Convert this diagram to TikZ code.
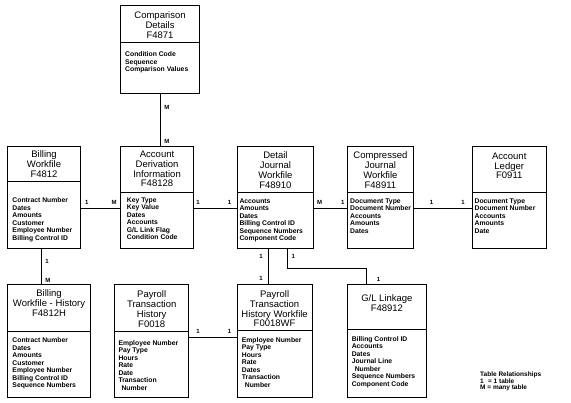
\documentclass[tikz,border=0pt]{standalone}
\usepackage{fontspec}
\setmainfont{Liberation Sans}
\usetikzlibrary{positioning}

% #1 name, #2 top left, #3 width, #4 height, #5 divider, #6 field shift,
% #7 title offset, #8 title, #9 fields
\newcommand{\dbtable}[9]{%
  \node[tblbox,minimum width=#3pt,minimum height=#4pt,anchor=north west] (#1) at (#2) {};
  \draw[rel] (#1.north west) ++(0,#5) -- ++(#3,0);
  \node[tbltitle,anchor=north] (#1title) at ([yshift={4.4pt-#7pt}]#1.north) {#8};
  \node[tblfields,anchor=north west] (#1fields) at ([shift={(#6)}]#1.north west) {#9};
}

\begin{document}
\begin{tikzpicture}[x=1pt,y=-1pt,
  tblbox/.style={draw,rectangle,inner sep=0pt,line width=0.8pt},
  tbltitle/.style={font=\fontsize{9.5}{9.7}\selectfont,align=center,inner sep=1pt},
  tblfields/.style={font=\bfseries\fontsize{6.8}{7.5}\selectfont,align=left,inner sep=0pt},
  rel/.style={line width=0.8pt},
  card/.style={font=\bfseries\fontsize{6}{6}\selectfont,inner sep=1pt}]
  \useasboundingbox (0,0) rectangle (571,403);

  \dbtable{cmp}{120,5}{79.3}{88}{37.5}{5,46.6}{10}
    {Comparison\\Details\\F4871}
    {Condition Code\\Sequence\\Comparison Values}

  % row of workfiles
  \dbtable{bwf}{7.3,146}{72.7}{102}{35.7}{5,51.6}{8.3}
    {Billing\\Workfile\\F4812}
    {Contract Number\\Dates\\Amounts\\Customer\\Employee Number\\Billing Control ID}
  \dbtable{adi}{120,146}{73.3}{102}{46.3}{6.7,51.6}{8.3}
    {Account\\Derivation\\Information\\F48128}
    {Key Type\\Key Value\\Dates\\Accounts\\G/L Link Flag\\Condition Code}
  \dbtable{djw}{237.3,146}{75.4}{102}{46.3}{2,52.3}{9.3}
    {Detail\\Journal\\Workfile\\F48910}
    {Accounts\\Amounts\\Dates\\Billing Control ID\\Sequence Numbers\\Component Code}
  \dbtable{cjw}{347.3,146}{65.4}{102}{46.3}{2.7,52.3}{9.3}
    {Compressed\\Journal\\Workfile\\F48911}
    {Document Type\\Document Number\\Accounts\\Amounts\\Dates}
  \dbtable{alg}{471.7,146}{74.3}{102}{46.3}{2.7,52.3}{10}
    {Account\\Ledger\\F0911}
    {Document Type\\Document Number\\Accounts\\Amounts\\Date}

  % history tables
  \dbtable{bwh}{7.3,284}{82.7}{113}{47}{5,53.6}{9.3}
    {Billing\\Workfile - History\\F4812H}
    {Contract Number\\Dates\\Amounts\\Customer\\Employee Number\\Billing Control ID\\Sequence Numbers}
  \dbtable{pth}{114.3,284}{74}{113}{47}{4,55.9}{10.3}
    {Payroll\\Transaction\\History\\F0018}
    {Employee Number\\Pay Type\\Hours\\Rate\\Date\\Transaction\\\hspace{3pt}Number}
  \dbtable{ptw}{236.7,284}{75}{113}{46}{5,52.9}{10}
    {Payroll\\Transaction\\History Workfile\\F0018WF}
    {Employee Number\\Pay Type\\Hours\\Rate\\Dates\\Transaction\\\hspace{3pt}Number}
  \dbtable{gll}{347.3,284}{78.4}{113}{45.3}{4.3,51.9}{13.7}
    {G/L Linkage\\F48912}
    {Billing Control ID\\Accounts\\Dates\\Journal Line\\\hspace{3pt}Number\\Sequence Numbers\\Component Code}

  % relationships
  \draw[rel] (cmp.south) -- node[card,pos=0.26,right=3pt] (r1) {M}
    node[card,pos=0.91,right=3pt] (r2) {M} (cmp.south |- adi.north);
  \draw[rel] ([yshift=-11pt]bwf.east) -- node[card,pos=0.15,above=2.5pt] (r3) {1}
    node[card,pos=0.85,above=2.5pt] (r4) {M} ([yshift=-11pt]adi.west);
  \draw[rel] ([yshift=-11pt]adi.east) -- node[card,pos=0.09,above=2.5pt] (r5) {1}
    node[card,pos=0.82,above=2.5pt] (r6) {1} ([yshift=-11pt]djw.west);
  \draw[rel] ([yshift=-11pt]djw.east) -- node[card,pos=0.18,above=2.5pt] (r7) {M}
    node[card,pos=0.87,above=2.5pt] (r8) {1} ([yshift=-11pt]cjw.west);
  \draw[rel] ([yshift=-11pt]cjw.east) -- node[card,pos=0.31,above=2.5pt] (r9) {1}
    node[card,pos=0.85,above=2.5pt] (r10) {1} ([yshift=-11pt]alg.west);
  \draw[rel] ([xshift=-3pt]bwf.south) -- node[card,pos=0.35,right=3pt] (r11) {1}
    node[card,pos=0.91,right=3pt] (r12) {M} ([xshift=-3pt]bwf.south |- bwh.north);
  \draw[rel] ([xshift=-7.3pt]djw.south) -- node[card,pos=0.21,left=4pt] (r13) {1}
    node[card,pos=0.84,left=4pt] (r14) {1} ([xshift=-7.3pt]djw.south |- ptw.north);
  \draw[rel] ([xshift=11.7pt]djw.south) -- node[card,pos=0.39,right=3pt] (r15) {1}
    ++(0,19.7) -| node[card,pos=0.86,right=9pt] (r16) {1} ([xshift=-20.5pt]gll.north);
  \draw[rel] ([yshift=3.8pt]pth.east) -- node[card,pos=0.19,above=2.5pt] (r17) {1}
    node[card,pos=0.85,above=2.5pt] (r18) {1} ([yshift=3.8pt]ptw.west);

  % legend
  \node[font=\bfseries\fontsize{6.5}{6.3}\selectfont,align=left,inner sep=0pt,anchor=north west]
    (key) at (480,372) {Table Relationships\\1\hspace{2.5pt} = 1 table\\M = many table};
\end{tikzpicture}
\end{document}
